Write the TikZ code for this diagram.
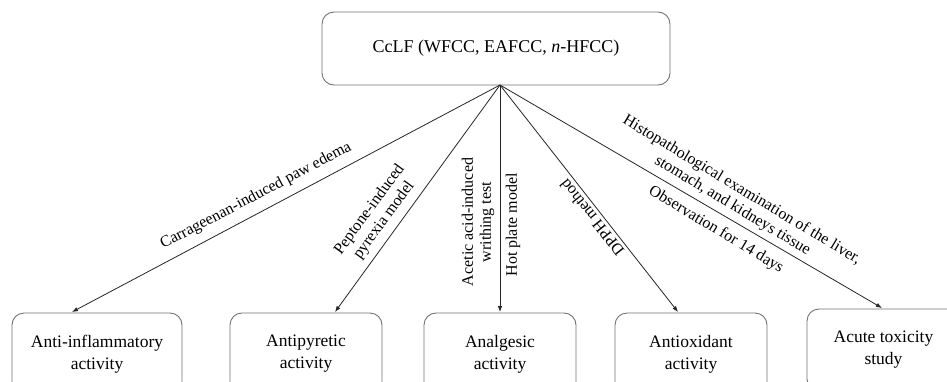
\documentclass[tikz,border=0pt]{standalone}
\usepackage{fontspec}
\setmainfont{Liberation Serif}
\usetikzlibrary{arrows.meta}
\begin{document}
\begin{tikzpicture}[x=1pt,y=-1pt,
  box/.style={draw=black!55,line width=0.9pt,rounded corners=12pt,align=center,inner sep=0pt},
  btext/.style={font=\fontsize{17.5}{22}\selectfont},
  conn/.style={draw=black!85,line width=0.8pt,-{Latex[length=6pt,width=4.5pt]}},
  lbl/.style={font=\fontsize{16}{18}\selectfont,align=center,inner sep=0pt}]
\clip (0,0) rectangle (947,381);
\fill[white] (0,0) rectangle (947,381);
\node[box,minimum width=348pt,minimum height=73pt,font=\fontsize{18}{22}\selectfont] (top) at (496,48.5) {CcLF (WFCC, EAFCC, \textit{n}-HFCC)};
\coordinate (hub) at (500,85);
\node[box,btext,minimum width=170pt,minimum height=82pt] (b1) at (97,354) {Anti-inflammatory\\activity};
\node[box,btext,minimum width=152pt,minimum height=82pt] (b2) at (306,354) {Antipyretic\\activity};
\node[box,btext,minimum width=152pt,minimum height=82pt] (b3) at (500,354) {Analgesic\\activity};
\node[box,btext,minimum width=152pt,minimum height=82pt] (b4) at (691,354) {Antioxidant\\activity};
\node[box,btext,minimum width=153pt,minimum height=82pt] (b5) at (883.5,350) {Acute toxicity\\study};
\coordinate (e1) at (72,312);
\coordinate (e2) at (335,312);
\coordinate (e3) at (500,312);
\coordinate (e4) at (678,312);
\coordinate (e5) at (882,308);
\draw[conn] (hub) -- (e1);
\draw[conn] (hub) -- (e2);
\draw[conn] (hub) -- (e3);
\draw[conn] (hub) -- (e4);
\draw[conn] (hub) -- (e5);
\node[lbl,rotate=27.7] (l1) at (256,196) {Carrageenan-induced paw edema};
\node[lbl,rotate=53.7] (l2) at (377,215) {Peptone-induced\\pyrexia model};
\node[lbl,rotate=90] (l3) at (478,222) {Acetic acid-induced\\writhing test};
\node[lbl,rotate=90] (l4) at (513,225) {Hot plate model};
\node[lbl,rotate=128.5] (l5) at (592,218) {DPPH method};
\node[lbl,rotate=-31] (l6) at (737,198) {Histopathological examination of the liver,\\stomach, and kidneys tissue};
\node[lbl,rotate=-31] (l7) at (716,230) {Observation for 14 days};
\end{tikzpicture}
\end{document}
